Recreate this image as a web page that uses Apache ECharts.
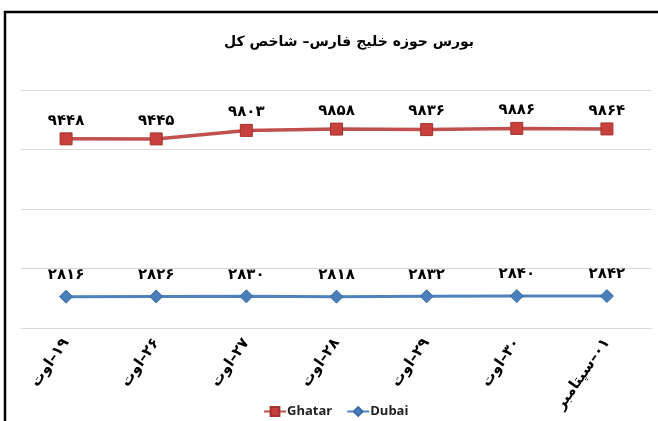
<!DOCTYPE html>
<html>
<head>
<meta charset="utf-8">
<script src="https://cdn.jsdelivr.net/npm/echarts@6/dist/echarts.min.js"></script>
<style>
  html, body { margin: 0; padding: 0; background: #fff; }
  #main_line { width: 658px; height: 421px; }
</style>
</head>
<body>
<div id="main_line"></div>
<script>
var dates = ['۱۹–اوت', '۲۶–اوت', '۲۷–اوت', '۲۸–اوت', '۲۹–اوت', '۳۰–اوت', '۰۱–سپتامبر'];
var ghatar = [9448, 9445, 9803, 9858, 9836, 9886, 9864];
var dubai = [2816, 2826, 2830, 2818, 2832, 2840, 2842];

// ارقام فارسی برای برچسب ها
function toFa(n) {
    return String(n).replace(/\d/g, function (d) { return '۰۱۲۳۴۵۶۷۸۹'[d]; });
}

var faFont = 'DejaVu Sans';
var myChart = echarts.init(document.getElementById('main_line'));
var option = {
    backgroundColor: '#fff',
    animation: false,
    title: {
        text: 'بورس حوزه خلیج فارس– شاخص کل',
        left: 349,
        top: 35,
        padding: 0,
        textAlign: 'center',
        textStyle: { fontFamily: faFont, fontWeight: 'bold', fontSize: 14, color: '#000' }
    },
    graphic: [{
        type: 'rect',
        shape: { x: 5, y: 12, width: 700, height: 450 },
        style: { fill: 'none', stroke: '#000', lineWidth: 2.5 },
        silent: true
    }],
    legend: {
        left: 258,
        top: 400,
        itemWidth: 22,
        itemHeight: 11,
        itemGap: 14,
        textStyle: { fontFamily: 'Open Sans', fontWeight: 'bold', fontSize: 13, color: '#222', padding: [0, 0, 0, -4] },
        data: ['Ghatar', 'Dubai']
    },
    grid: { left: 21, top: 90, width: 631, height: 238 },
    xAxis: {
        type: 'category',
        data: dates,
        axisLine: { lineStyle: { color: '#d9d9d9', width: 1 } },
        axisTick: { show: false },
        axisLabel: {
            rotate: 55,
            margin: 12,
            fontFamily: faFont,
            fontWeight: 'bold',
            fontSize: 15,
            color: '#000',
            // RLM so the day number stays on the right
            formatter: function (v) { return '\u200F' + v; }
        }
    },
    yAxis: {
        type: 'value',
        min: 1500,
        max: 11500,
        interval: 2500,
        axisLabel: { show: false },
        axisLine: { show: false },
        axisTick: { show: false },
        splitLine: { lineStyle: { color: '#d9d9d9', width: 1 } }
    },
    series: [
        {
            name: 'Ghatar',
            type: 'line',
            data: ghatar,
            symbol: 'rect',
            symbolSize: 12,
            lineStyle: { color: '#c0504d', width: 3.5 },
            itemStyle: { color: '#c8403c', borderColor: '#a33330', borderWidth: 1 },
            label: {
                show: true,
                position: 'top',
                distance: 4,
                formatter: function (p) { return toFa(p.value); },
                fontFamily: faFont,
                fontWeight: 'bold',
                fontSize: 15,
                color: '#000'
            }
        },
        {
            name: 'Dubai',
            type: 'line',
            data: dubai,
            symbol: 'diamond',
            symbolSize: 13,
            lineStyle: { color: '#4f81bd', width: 3 },
            itemStyle: { color: '#4a7ebb', borderColor: '#3a6aa3', borderWidth: 1 },
            label: {
                show: true,
                position: 'top',
                distance: 7,
                formatter: function (p) { return toFa(p.value); },
                fontFamily: faFont,
                fontWeight: 'bold',
                fontSize: 15,
                color: '#000'
            }
        }
    ]
};
myChart.setOption(option);
</script>
</body>
</html>
